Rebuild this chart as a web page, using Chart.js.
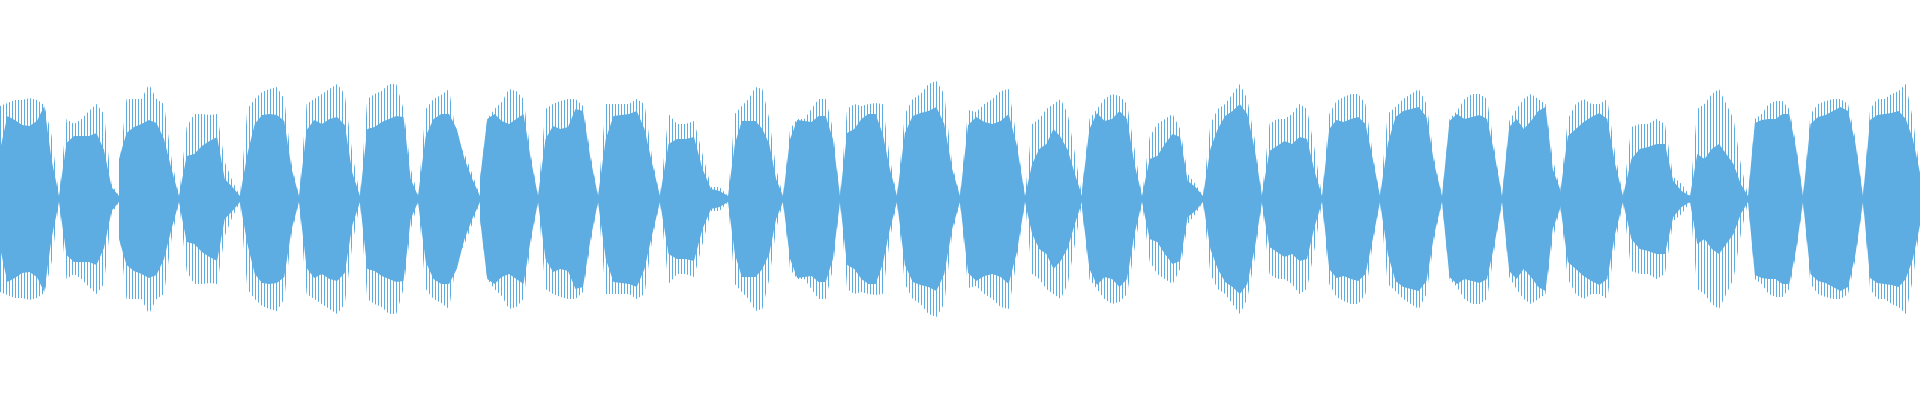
<!DOCTYPE html>
<html lang="en">
<head>
    <meta charset="UTF-8">
    <title>Waveform</title>
    <script src="https://cdn.jsdelivr.net/npm/chart.js"></script>
    <style>
        html, body {
            margin: 0;
            padding: 0;
            background: #fff;
        }
        .chart-container {
            width: 1920px;
            height: 400px;
        }
    </style>
</head>
<body>
    <div class="chart-container">
        <canvas id="waveChart"></canvas>
    </div>

    <script>
        // Segment edges along x (pixels of the original capture)
        var segBounds = [0, 59, 119, 179, 240, 299, 360, 418, 480, 538, 598, 660, 728, 783, 840, 897,
            960, 1025, 1082, 1142, 1203, 1262, 1322, 1380, 1442, 1502, 1560, 1623, 1690, 1748, 1803, 1863, 1920];

        // Solid body amplitude, 9 samples per segment (start .. end)
        var innerAmp = [
            [49, 83, 79, 74, 73, 78, 93, 39, 3],
            [3, 56, 63, 63, 63, 66, 49, 12, 3],
            [40, 66, 72, 75, 79, 76, 60, 30, 3],
            [3, 43, 45, 53, 58, 62, 20, 12, 3],
            [3, 45, 75, 84, 85, 84, 78, 30, 3],
            [3, 69, 79, 75, 80, 82, 74, 26, 3],
            [3, 70, 72, 77, 80, 83, 82, 20, 3],
            [3, 63, 80, 85, 85, 70, 40, 20, 3],
            [20, 80, 85, 78, 75, 80, 85, 40, 3],
            [3, 60, 73, 70, 72, 90, 88, 40, 3],
            [3, 60, 83, 84, 85, 88, 70, 35, 3],
            [3, 55, 60, 60, 62, 30, 10, 8, 3],
            [3, 55, 78, 78, 78, 70, 55, 20, 3],
            [3, 60, 79, 78, 77, 83, 83, 60, 3],
            [3, 66, 70, 80, 85, 85, 65, 30, 3],
            [3, 66, 83, 86, 88, 92, 75, 30, 3],
            [3, 74, 82, 77, 75, 78, 85, 53, 3],
            [3, 35, 50, 55, 70, 62, 49, 25, 3],
            [10, 70, 86, 78, 80, 88, 80, 35, 3],
            [3, 40, 43, 55, 65, 62, 18, 12, 3],
            [3, 50, 70, 83, 88, 95, 85, 50, 3],
            [5, 48, 53, 58, 55, 62, 60, 28, 3],
            [3, 70, 79, 77, 80, 82, 75, 40, 3],
            [3, 55, 82, 88, 90, 92, 82, 35, 3],
            [3, 78, 85, 80, 82, 84, 80, 45, 3],
            [3, 72, 80, 70, 78, 88, 92, 30, 10],
            [5, 63, 70, 77, 82, 86, 80, 35, 3],
            [3, 40, 50, 52, 55, 55, 18, 8, 3],
            [3, 45, 40, 50, 55, 45, 35, 15, 3],
            [3, 76, 79, 80, 80, 85, 85, 50, 3],
            [3, 75, 82, 84, 88, 92, 88, 55, 3],
            [3, 79, 84, 85, 86, 88, 80, 60, 26]
        ];

        // Spike envelope amplitude, same sampling
        var outerAmp = [
            [93, 96, 99, 99, 101, 99, 94, 63, 3],
            [3, 80, 75, 80, 88, 95, 85, 15, 3],
            [30, 100, 100, 100, 115, 100, 95, 40, 3],
            [3, 72, 85, 85, 84, 85, 37, 18, 3],
            [3, 90, 100, 107, 110, 112, 100, 35, 3],
            [3, 95, 100, 105, 110, 115, 105, 45, 3],
            [3, 100, 105, 108, 115, 115, 90, 30, 3],
            [3, 90, 100, 104, 110, 60, 45, 25, 3],
            [20, 80, 90, 97, 110, 108, 100, 45, 3],
            [3, 90, 95, 98, 100, 100, 93, 45, 3],
            [3, 95, 95, 95, 95, 100, 95, 40, 3],
            [3, 85, 75, 75, 78, 45, 12, 12, 3],
            [3, 85, 93, 100, 112, 110, 80, 30, 3],
            [3, 70, 80, 80, 90, 100, 100, 70, 3],
            [3, 90, 95, 93, 95, 96, 95, 40, 3],
            [3, 85, 100, 105, 115, 118, 105, 35, 3],
            [3, 89, 87, 95, 100, 108, 110, 60, 3],
            [3, 75, 80, 90, 95, 100, 85, 45, 3],
            [10, 80, 90, 100, 105, 103, 95, 50, 3],
            [3, 62, 75, 80, 85, 70, 25, 15, 3],
            [3, 75, 90, 95, 105, 115, 100, 60, 3],
            [5, 75, 80, 80, 85, 95, 90, 50, 3],
            [3, 85, 98, 102, 105, 105, 95, 45, 3],
            [3, 85, 92, 100, 105, 110, 95, 40, 3],
            [3, 80, 88, 100, 105, 105, 100, 50, 3],
            [3, 78, 90, 100, 105, 100, 95, 40, 10],
            [5, 80, 95, 100, 95, 95, 100, 45, 3],
            [3, 72, 75, 75, 80, 75, 22, 15, 3],
            [3, 90, 95, 105, 110, 95, 80, 35, 3],
            [3, 80, 85, 95, 98, 98, 90, 55, 3],
            [3, 85, 95, 98, 100, 100, 95, 60, 3],
            [3, 90, 100, 100, 105, 108, 115, 80, 26]
        ];

        var waveColor = '#5DADE2';

        function envelope(amps, sign) {
            var pts = [];
            for (var i = 0; i < amps.length; i++) {
                var x0 = segBounds[i], x1 = segBounds[i + 1];
                var row = amps[i];
                for (var k = 0; k < row.length; k++) {
                    pts.push({ x: x0 + (x1 - x0) * k / (row.length - 1), y: sign * row[k] });
                }
            }
            return pts;
        }

        // vertical stripes for the spiky outer band
        var patCanvas = document.createElement('canvas');
        patCanvas.width = 3;
        patCanvas.height = 1;
        var pctx = patCanvas.getContext('2d');
        pctx.fillStyle = waveColor;
        pctx.fillRect(0, 0, 1, 1);

        var ctx = document.getElementById('waveChart').getContext('2d');
        var stripes = ctx.createPattern(patCanvas, 'repeat');

        new Chart(ctx, {
            type: 'line',
            data: {
                datasets: [
                    { data: envelope(outerAmp, 1), fill: '+1', backgroundColor: stripes, borderWidth: 0, pointRadius: 0 },
                    { data: envelope(outerAmp, -1), fill: false, borderWidth: 0, pointRadius: 0 },
                    { data: envelope(innerAmp, 1), fill: '+1', backgroundColor: waveColor, borderWidth: 0, pointRadius: 0 },
                    { data: envelope(innerAmp, -1), fill: false, borderWidth: 0, pointRadius: 0 }
                ]
            },
            options: {
                responsive: true,
                maintainAspectRatio: false,
                animation: false,
                layout: { padding: 0 },
                plugins: { legend: { display: false }, tooltip: { enabled: false } },
                elements: { line: { tension: 0 } },
                scales: {
                    x: { type: 'linear', min: 0, max: 1920, display: false },
                    y: { min: -201, max: 199, display: false }
                }
            }
        });
    </script>
</body>
</html>
